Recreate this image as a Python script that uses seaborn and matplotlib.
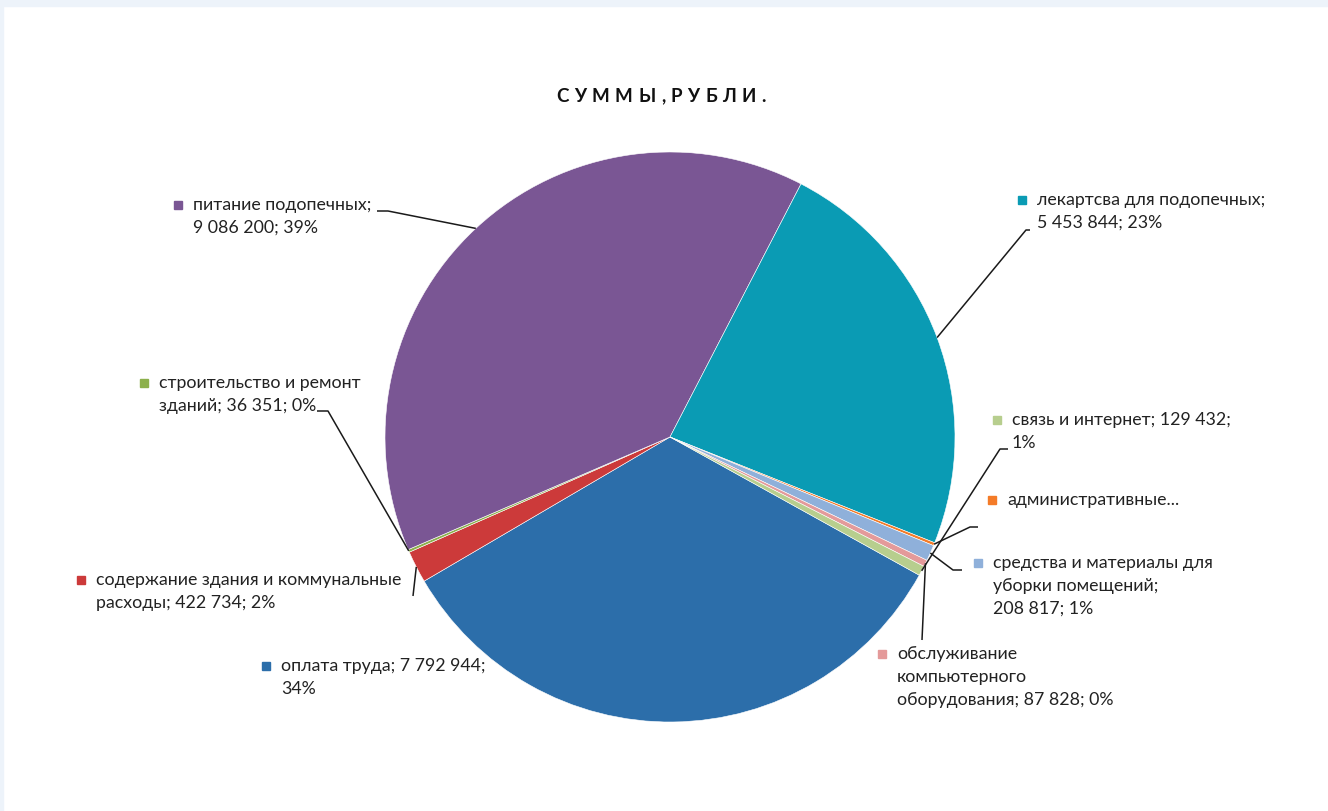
import numpy as np
import matplotlib
matplotlib.use("Agg")
import matplotlib.pyplot as plt
import seaborn as sns
from matplotlib.patches import Rectangle

sns.set_theme(style="white")
plt.rcParams['font.family'] = ['Lato', 'DejaVu Sans']

# ---------------- data ----------------
categories = [
    "оплата труда",
    "содержание здания и коммунальные расходы",
    "строительство и ремонт зданий",
    "питание подопечных",
    "лекартсва для подопечных",
    "административные расходы",
    "средства и материалы для уборки помещений",
    "обслуживание компьютерного оборудования",
    "связь и интернет",
]
values = [7792944, 422734, 36351, 9086200, 5453844, 40000, 208817, 87828, 129432]
colors = ["#2C6EAA", "#CC3A3A", "#8CB04C", "#7A5694", "#0A9BB4",
          "#F47B28", "#8FB0DA", "#E49A9A", "#B7CE8E"]
title = "СУММЫ,РУБЛИ."

# ---------------- layout ----------------
W, H = 1328, 811
fig = plt.figure(figsize=(W / 100, H / 100), dpi=100)
fig.patch.set_facecolor("white")
# light frame strips
fig.patches.append(Rectangle((0, 1 - 6 / H), 1, 6 / H, transform=fig.transFigure,
                             color="#EDF3FA", zorder=0))
fig.patches.append(Rectangle((0, 0), 3 / W, 1, transform=fig.transFigure,
                             color="#EDF3FA", zorder=0))

cx, cy, R = 670, 437, 285
ax = fig.add_axes([(cx - R) / W, (H - cy - R) / H, 2 * R / W, 2 * R / H])
wedges, _ = ax.pie(values, colors=colors, startangle=-29, counterclock=False,
                   radius=1, wedgeprops=dict(edgecolor="white", linewidth=0.4))
ax.set_xlim(-1, 1)
ax.set_ylim(-1, 1)
ax.set_aspect("equal")
ax.axis("off")

ov = fig.add_axes([0, 0, 1, 1], zorder=5)
ov.set_xlim(0, W)
ov.set_ylim(H, 0)
ov.axis("off")
ov.patch.set_alpha(0)

total = sum(values)


def fmt_num(v):
    return f"{v:,}".replace(",", " ")


# per label: text left x, first line y, line composition, leader polyline (label side)
label_layout = {
    0: dict(x=281, y=666, lines=lambda n, v, p: [f"{n}; {v};", p], lead=None),
    1: dict(x=96, y=580, lines=lambda n, v, p: [" ".join(n.split()[:4]), f"{n.split()[4]}; {v}; {p}"],
            lead=[(413, 596)]),
    2: dict(x=159, y=383, lines=lambda n, v, p: [" ".join(n.split()[:3]), f"{n.split()[3]}; {v}; {p}"],
            lead=[(317, 411), (328, 411)]),
    3: dict(x=193, y=205, lines=lambda n, v, p: [f"{n};", f"{v}; {p}"],
            lead=[(377, 211), (388, 211)]),
    4: dict(x=1037, y=200, lines=lambda n, v, p: [f"{n};", f"{v}; {p}"],
            lead=[(1030, 230), (1026, 230)]),
    5: dict(x=1007, y=500, lines=lambda n, v, p: [n.split()[0] + "..."],
            lead=[(978, 527), (970, 527)]),
    6: dict(x=993, y=563, lines=lambda n, v, p: [" ".join(n.split()[:4]), " ".join(n.split()[4:]) + ";", f"{v}; {p}"],
            lead=[(962, 570), (953, 570)]),
    7: dict(x=897, y=654, lines=lambda n, v, p: [n.split()[0], n.split()[1], f"{n.split()[2]}; {v}; {p}"],
            lead=[(922, 640)]),
    8: dict(x=1012, y=420, lines=lambda n, v, p: [f"{n}; {v};", p],
            lead=[(1008, 449), (1000, 449)]),
}

text_color = "#222222"
fs = 12.8
line_h = 23

to_ov = ov.transData.inverted()
for i, (name, val, col, w) in enumerate(zip(categories, values, colors, wedges)):
    lay = label_layout[i]
    pct = f"{round(val / total * 100)}%"
    lines = lay["lines"](name, fmt_num(val), pct)
    for k, ln in enumerate(lines):
        ov.text(lay["x"], lay["y"] + k * line_h, ln, fontsize=fs, color=text_color,
                va="center", ha="left")
    ov.plot([lay["x"] - 15], [lay["y"]], marker="s", markersize=6.3, color=col,
            linestyle="none")
    if lay["lead"]:
        mid = np.deg2rad((w.theta1 + w.theta2) / 2)
        px, py = np.cos(mid) * w.r, np.sin(mid) * w.r
        disp = ax.transData.transform((px, py))
        ex, ey = to_ov.transform(disp)
        pts = lay["lead"] + [(ex, ey)]
        ov.plot([p[0] for p in pts], [p[1] for p in pts], color="#1a1a1a", lw=1.1,
                solid_capstyle="butt")

# title with letter spacing
fig.canvas.draw()
renderer = fig.canvas.get_renderer()
spacing = 5.5
glyphs = []
widths = []
for ch in title:
    t = ov.text(0, 97, ch, fontsize=13.5, fontweight="bold", color="#111111",
                va="center", ha="left")
    bb = t.get_window_extent(renderer)
    glyphs.append(t)
    widths.append(bb.width)
total_w = sum(widths) + spacing * (len(title) - 1)
x0 = 661 - total_w / 2
for t, wdt in zip(glyphs, widths):
    t.set_x(x0)
    x0 += wdt + spacing

fig.savefig("out.png", dpi=100, facecolor="white")
